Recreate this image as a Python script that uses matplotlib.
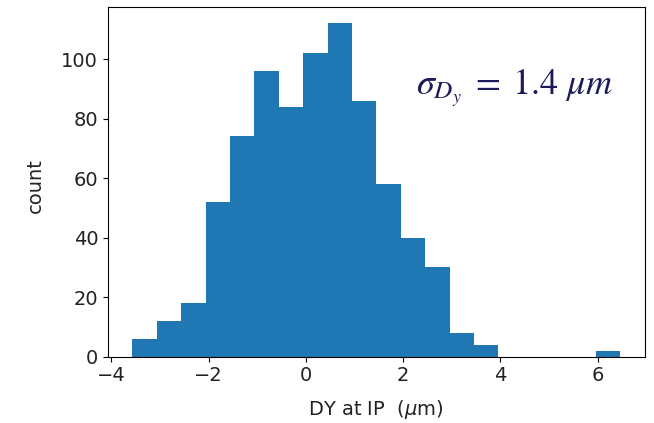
import matplotlib
matplotlib.use("Agg")
import matplotlib.pyplot as plt
import numpy as np

# histogram counts (20 bins)
counts = [6, 12, 18, 52, 74, 96, 84, 102, 112, 86,
          58, 40, 30, 8, 4, 0, 0, 0, 0, 2]
bin_lo = -3.566
bin_hi = 6.467
sigma_txt = r"$\sigma_{D_y}\;=\;1.4\ \mu m$"

edges = np.linspace(bin_lo, bin_hi, len(counts) + 1)
centers = 0.5 * (edges[:-1] + edges[1:])

fig = plt.figure(figsize=(6.54, 4.23), dpi=100)
ax = fig.add_axes([0.165, 0.157, 0.821, 0.827])

ax.hist(centers, bins=edges, weights=counts, color="#1f77b4")

ax.set_xlabel(r"DY at IP  ($\mu$m)", fontsize=14, color="#222222", labelpad=9)
ax.set_ylabel("count", fontsize=14, color="#222222")
ax.yaxis.set_label_coords(-0.117, 0.49)
ax.tick_params(axis="both", labelsize=14, labelcolor="#222222")
ax.set_yticks([0, 20, 40, 60, 80, 100])
ax.set_xticks([-4, -2, 0, 2, 4, 6])

ax.text(0.574, 0.748, sigma_txt, transform=ax.transAxes, va="baseline",
        fontsize=26, color="#1b1b5a", math_fontfamily="stix")

fig.savefig("out.png", dpi=100)
